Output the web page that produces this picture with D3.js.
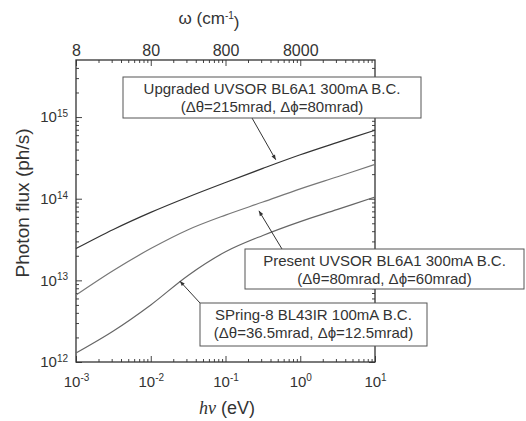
<!DOCTYPE html>
<html>
<head>
<meta charset="utf-8">
<script src="https://cdn.jsdelivr.net/npm/d3@7"></script>
<style>
  body { margin: 0; background: #fff; }
  svg { display: block; font-family: "Liberation Sans", Arial, sans-serif; }
  .tick line { stroke: #444; }
  .domain { stroke: none; }
</style>
</head>
<body>
<svg id="chart"></svg>
<script>
// photon energy (eV) sampled every half decade
const energy = [0.001, 0.00316, 0.01, 0.0316, 0.1, 0.316, 1, 3.16, 10];
// photon flux (ph/s)
const fluxUpgraded = [2.45e13, 4.2e13, 6.8e13, 1.05e14, 1.58e14, 2.35e14, 3.45e14, 4.9e14, 6.9e14];
const fluxPresent  = [6.6e12, 1.32e13, 2.45e13, 4.17e13, 6.3e13, 9.1e13, 1.32e14, 1.86e14, 2.63e14];
const fluxSpring8  = [1.29e12, 2.4e12, 5.0e12, 1.15e13, 2.24e13, 3.55e13, 5.25e13, 7.4e13, 1.05e14];

const xMajor = [1e-3, 1e-2, 1e-1, 1, 10];
const yMajor = [1e12, 1e13, 1e14, 1e15];
const wMajor = [8, 80, 800, 8000];

// annotation texts, arrow tip (energy, flux) and box placement (px)
const labels = [
  { lines: ["Upgraded UVSOR BL6A1 300mA B.C.", "(\u0394\u03b8=215mrad, \u0394\u03d5=80mrad)"],
    tip: [0.47, 3.0e14], box: [123, 77, 298, 41], from: [252, 118] },
  { lines: ["Present UVSOR BL6A1 300mA B.C.", "(\u0394\u03b8=80mrad, \u0394\u03d5=60mrad)"],
    tip: [0.28, 7.1e13], box: [245, 249, 279, 40], from: [282, 249] },
  { lines: ["SPring-8 BL43IR 100mA B.C.", "(\u0394\u03b8=36.5mrad, \u0394\u03d5=12.5mrad)"],
    tip: [0.0245, 9.8e12], box: [200, 303, 227, 43], from: [200, 303] }
];

const width = 526, height = 421;
const margin = { top: 60, right: 151, bottom: 59, left: 76 };

const svg = d3.select("#chart").attr("width", width).attr("height", height);

const x = d3.scaleLog().domain([1e-3, 10]).range([margin.left, width - margin.right]);
const y = d3.scaleLog().domain([1e12, 5e15]).range([height - margin.bottom, margin.top]);
const w = d3.scaleLog().domain([8, 80000]).range(x.range());

function minors(lo, hi, base = 1) {
  const out = [];
  for (let k = -4; k <= 16; k++) {
    for (let m = 2; m <= 9; m++) {
      const v = base * m * Math.pow(10, k);
      if (v > lo * 1.0001 && v < hi * 0.9999) out.push(v);
    }
  }
  return out;
}

// power-of-ten labels with a superscript
function powLabel(sel) {
  sel.each(function(d) {
    const t = d3.select(this).text(null);
    t.append("tspan").text("10");
    t.append("tspan").attr("dy", "-0.55em").attr("font-size", "10px")
      .text(Math.round(Math.log10(d)));
  });
}

const iw = x.range()[1] - x.range()[0];
const ih = y.range()[0] - y.range()[1];

// bottom axis
svg.append("g").attr("transform", `translate(0,${y.range()[0]})`)
  .call(d3.axisBottom(x).tickValues(minors(1e-3, 10)).tickSize(-3).tickFormat(""));
svg.append("g").attr("transform", `translate(0,${y.range()[0]})`)
  .call(d3.axisBottom(x).tickValues(xMajor).tickSize(-6).tickPadding(14))
  .call(g => g.selectAll("text").attr("font-size", "15px").attr("fill", "#333").call(powLabel));

// top axis (wavenumber)
svg.append("g").attr("transform", `translate(0,${y.range()[1]})`)
  .call(d3.axisTop(w).tickValues(minors(8, 80000, 8)).tickSize(-3).tickFormat(""));
svg.append("g").attr("transform", `translate(0,${y.range()[1]})`)
  .call(d3.axisTop(w).tickValues(wMajor).tickSize(-6).tickPadding(4).tickFormat(d3.format("d")))
  .call(g => g.selectAll("text").attr("font-size", "16px").attr("fill", "#333"));

// left axis
svg.append("g").attr("transform", `translate(${x.range()[0]},0)`)
  .call(d3.axisLeft(y).tickValues(minors(1e12, 5e15)).tickSize(-3).tickFormat(""));
svg.append("g").attr("transform", `translate(${x.range()[0]},0)`)
  .call(d3.axisLeft(y).tickValues(yMajor).tickSize(-6).tickPadding(8))
  .call(g => g.selectAll("text").attr("font-size", "15px").attr("fill", "#333").call(powLabel));

// right axis
svg.append("g").attr("transform", `translate(${x.range()[1]},0)`)
  .call(d3.axisRight(y).tickValues(minors(1e12, 5e15)).tickSize(-3).tickFormat(""));
svg.append("g").attr("transform", `translate(${x.range()[1]},0)`)
  .call(d3.axisRight(y).tickValues(yMajor).tickSize(-6).tickFormat(""));

// frame
svg.append("rect")
  .attr("x", x.range()[0]).attr("y", y.range()[1])
  .attr("width", iw).attr("height", ih)
  .attr("fill", "none").attr("stroke", "#333").attr("stroke-width", 1.3);

// curves
const line = d3.line().x(d => x(d[0])).y(d => y(d[1])).curve(d3.curveCatmullRom.alpha(0.5));
const series = [
  { v: fluxUpgraded, c: "#333" },
  { v: fluxPresent, c: "#777" },
  { v: fluxSpring8, c: "#666" }
];
svg.append("g").selectAll("path").data(series).enter().append("path")
  .attr("d", s => line(energy.map((e, i) => [e, s.v[i]])))
  .attr("fill", "none").attr("stroke", s => s.c).attr("stroke-width", 1.2);

// arrow marker
svg.append("defs").append("marker")
  .attr("id", "arr").attr("viewBox", "0 0 10 10").attr("refX", 10).attr("refY", 5)
  .attr("markerWidth", 9).attr("markerHeight", 5).attr("orient", "auto")
  .attr("markerUnits", "userSpaceOnUse")
  .append("path").attr("d", "M0,1 L10,5 L0,9 Z").attr("fill", "#333");

// annotations
const ann = svg.append("g").selectAll("g").data(labels).enter().append("g");
ann.append("line")
  .attr("x1", d => d.from[0]).attr("y1", d => d.from[1])
  .attr("x2", d => x(d.tip[0])).attr("y2", d => y(d.tip[1]))
  .attr("stroke", "#333").attr("stroke-width", 1).attr("marker-end", "url(#arr)");
ann.append("rect")
  .attr("x", d => d.box[0]).attr("y", d => d.box[1])
  .attr("width", d => d.box[2]).attr("height", d => d.box[3])
  .attr("fill", "#fff").attr("stroke", "#555").attr("stroke-width", 1);
ann.each(function(d) {
  const g = d3.select(this);
  d.lines.forEach((t, i) => {
    g.append("text")
      .attr("x", d.box[0] + d.box[2] / 2)
      .attr("y", d.box[1] + 17 + i * 18)
      .attr("text-anchor", "middle")
      .attr("font-size", "15px").attr("fill", "#333")
      .text(t);
  });
});

// axis titles
svg.append("text")
  .attr("x", 209).attr("y", 24).attr("text-anchor", "middle")
  .attr("font-size", "17px").attr("fill", "#333")
  .call(t => {
    t.append("tspan").text("\u03c9 (cm");
    t.append("tspan").attr("dy", "-0.5em").attr("font-size", "10px").text("-1");
    t.append("tspan").attr("dy", "0.5em").text(")");
  });

svg.append("text")
  .attr("x", 227).attr("y", 414).attr("text-anchor", "middle")
  .attr("font-size", "18px").attr("fill", "#333")
  .call(t => {
    t.append("tspan").attr("font-family", "'Liberation Serif', serif").attr("font-style", "italic").text("h\u03bd");
    t.append("tspan").text(" (eV)");
  });

svg.append("text")
  .attr("transform", "translate(29,203) rotate(-90)")
  .attr("text-anchor", "middle")
  .attr("font-size", "19px").attr("fill", "#333")
  .text("Photon flux (ph/s)");
</script>
</body>
</html>
